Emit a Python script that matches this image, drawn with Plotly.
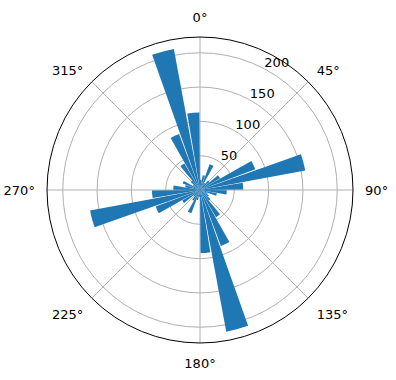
import plotly.graph_objects as go

# bin centres (degrees, clockwise from north) and bar lengths
directions = [5, 15, 25, 35, 45, 55, 65, 75, 85, 95, 105, 115,
              125, 135, 145, 155, 165, 175, 185, 195, 205, 215, 225, 235,
              245, 255, 265, 275, 285, 295, 305, 315, 325, 335, 345, 355]
counts = [15, 22, 40, 12, 18, 34, 86, 156, 63, 39, 25, 12,
          15, 20, 46, 87, 210, 92, 10, 15, 36, 18, 12, 30,
          69, 163, 70, 39, 22, 27, 12, 18, 45, 87, 209, 113]
angle_ticks = [0, 45, 90, 135, 180, 225, 270, 315]
angle_labels = [f"{a}°" for a in angle_ticks]
radial_ticks = [50, 100, 150, 200]
radial_labels = [f"{v}<br> " for v in radial_ticks]

fig = go.Figure()
fig.add_trace(go.Barpolar(
    r=counts,
    theta=directions,
    width=[9] * len(directions),
    marker=dict(color="#1f77b4", line=dict(width=0)),
    opacity=1,
))

font = dict(family="DejaVu Sans", size=13, color="black")
fig.update_layout(
    width=396, height=380,
    margin=dict(l=0, r=0, t=0, b=0),
    paper_bgcolor="white",
    showlegend=False,
    font=font,
    polar=dict(
        domain=dict(x=[47 / 396, 353 / 396], y=[37 / 380, 343 / 380]),
        bgcolor="white",
        bargap=0,
        angularaxis=dict(
            direction="clockwise", rotation=90,
            tickmode="array", tickvals=angle_ticks, ticktext=angle_labels,
            showline=True, linecolor="black", linewidth=1,
            showgrid=True, gridcolor="#b0b0b0", gridwidth=0.8,
            ticks="outside", ticklen=9, tickcolor="rgba(0,0,0,0)",
            tickfont=font,
        ),
        radialaxis=dict(
            range=[0, 223],
            tickmode="array", tickvals=radial_ticks, ticktext=radial_labels,
            angle=65, tickangle=65,
            showline=False, ticks="",
            showgrid=True, gridcolor="#b0b0b0", gridwidth=0.8,
            tickfont=font,
        ),
    ),
)

fig.write_html("out.html")
